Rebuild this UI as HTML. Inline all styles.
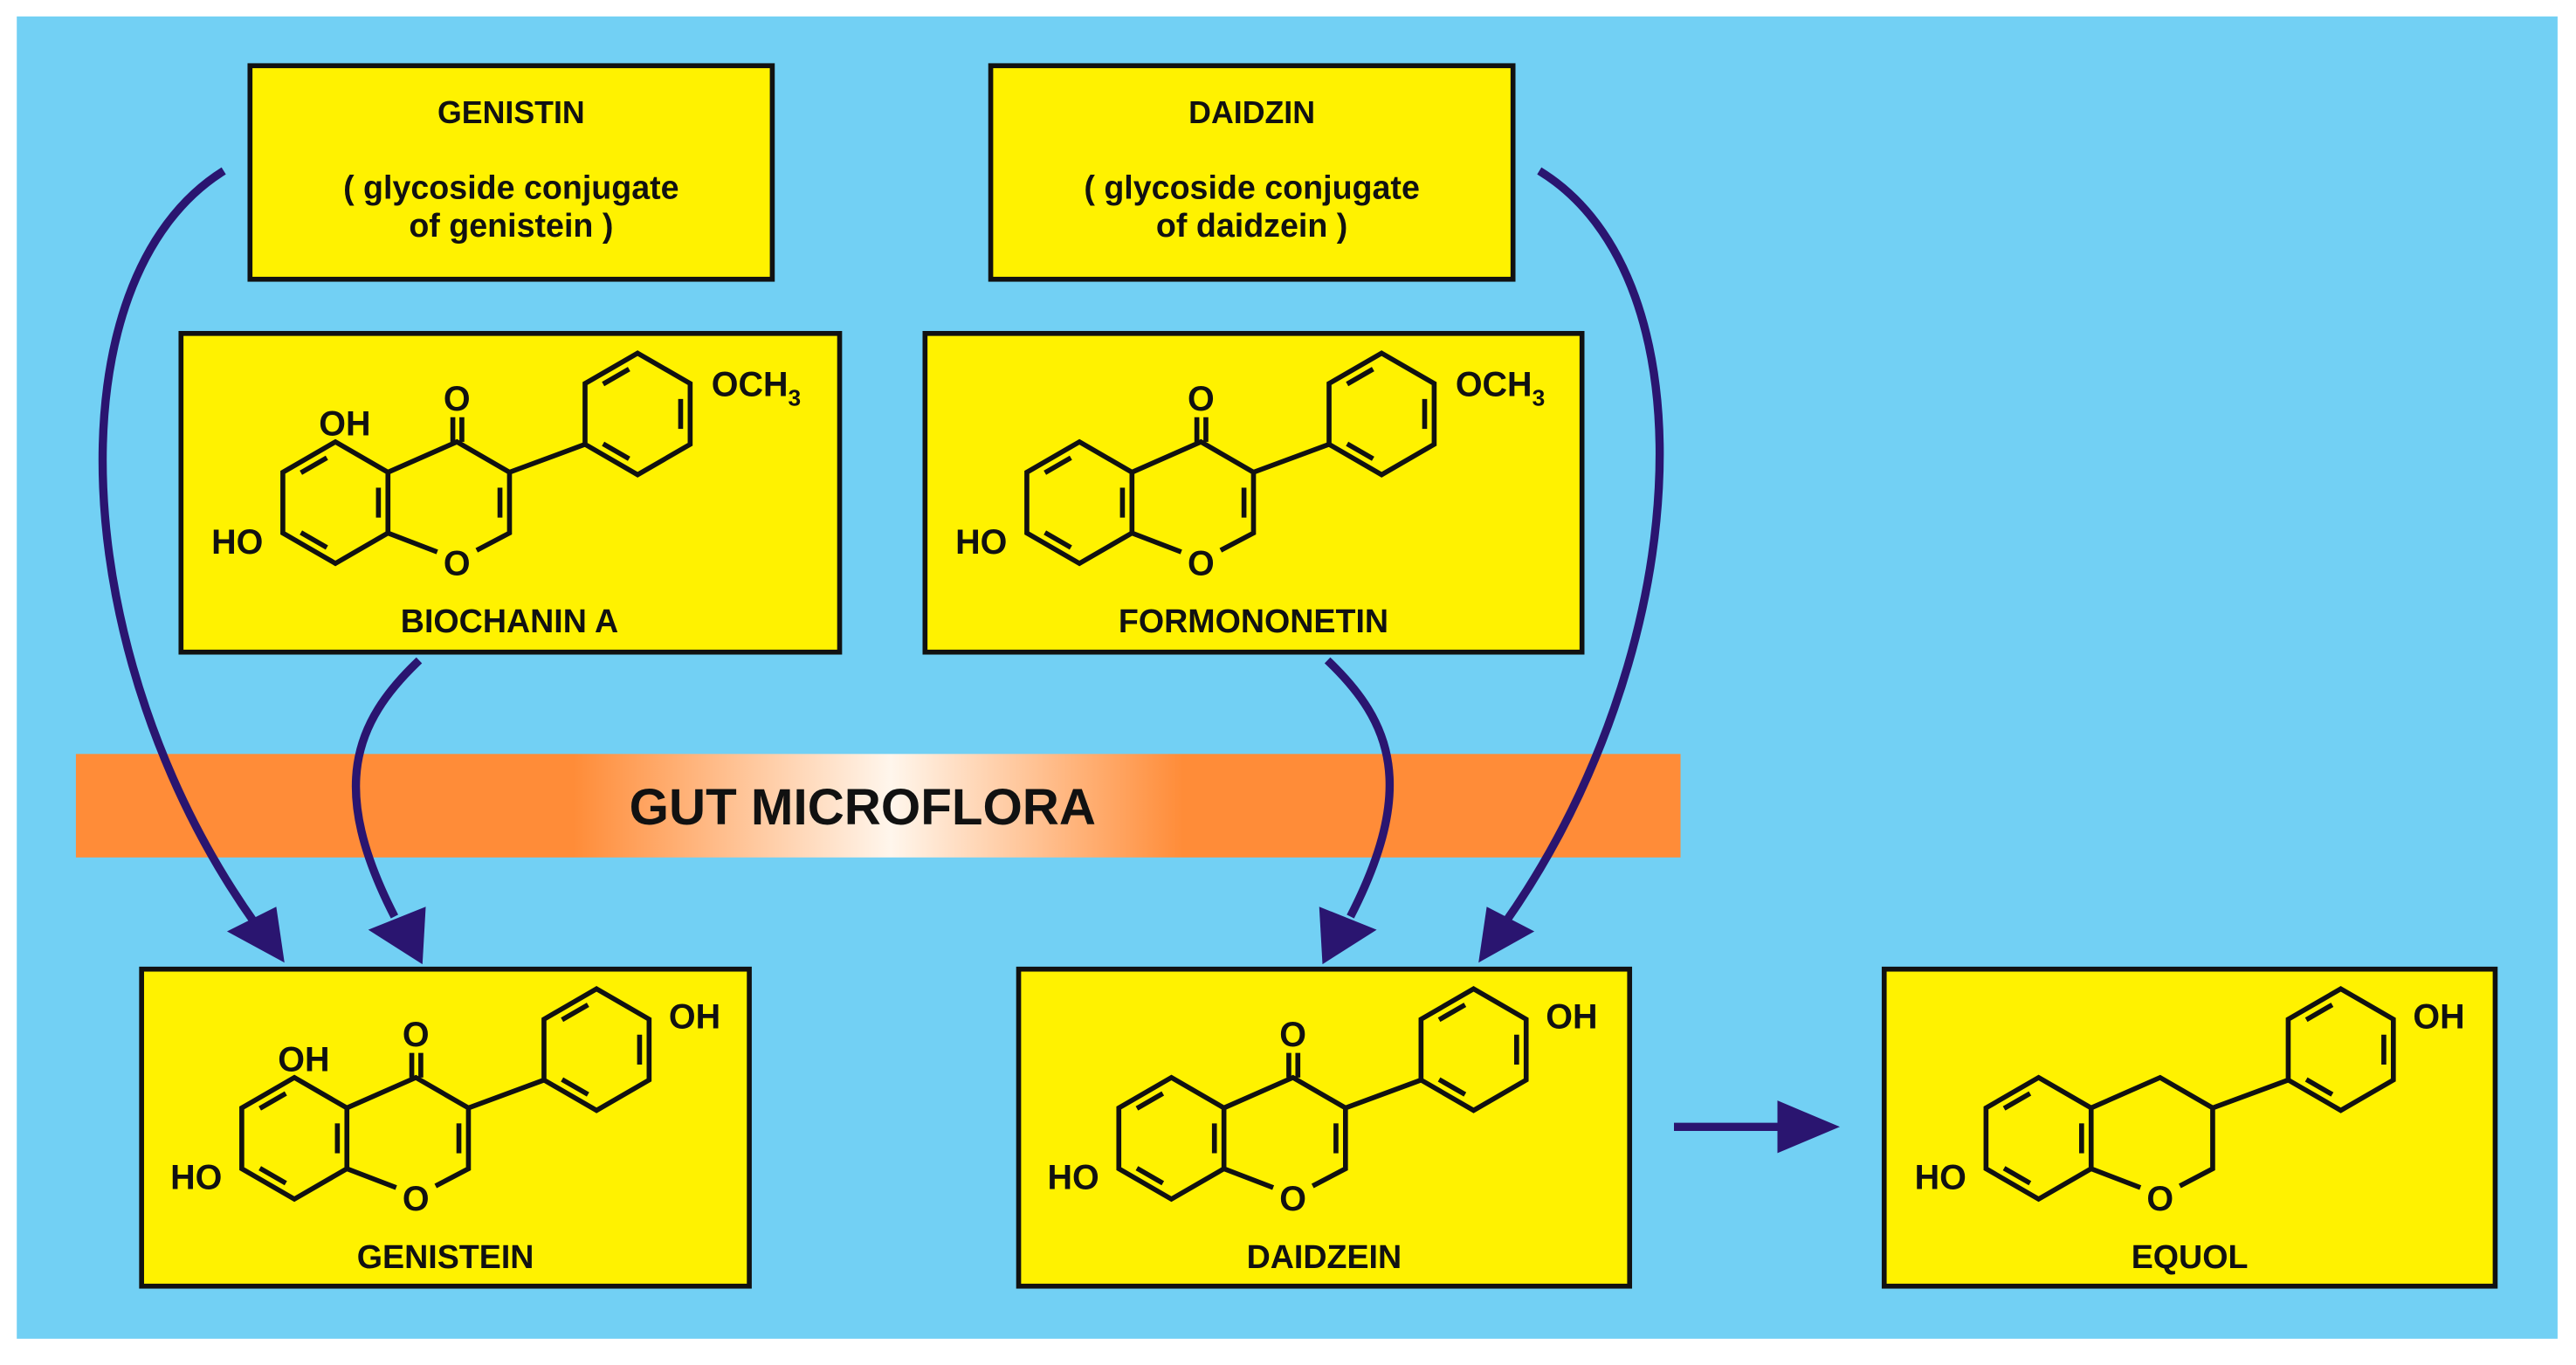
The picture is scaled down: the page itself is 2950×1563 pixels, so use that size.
<!DOCTYPE html>
<html><head><meta charset="utf-8"><style>
html,body{margin:0;padding:0;background:#fff;}
svg{display:block;}
text{font-family:"Liberation Sans",Arial,sans-serif;font-weight:bold;fill:#111;}
</style></head><body>
<svg width="2950" height="1563" viewBox="0 0 1568 831" xmlns="http://www.w3.org/2000/svg">
<defs>
<linearGradient id="og" x1="0" y1="0" x2="1" y2="0">
<stop offset="0" stop-color="#FF8C38"/>
<stop offset="0.31" stop-color="#FF8C38"/>
<stop offset="0.508" stop-color="#FFF6EC"/>
<stop offset="0.69" stop-color="#FF8C38"/>
<stop offset="1" stop-color="#FF8C38"/>
</linearGradient>
<g id="core" fill="none" stroke="#111" stroke-width="3" stroke-linejoin="miter">
<polygon points="0,-37 32,-18.5 32,18.5 0,37 -32,18.5 -32,-18.5"/>
<line x1="-21" y1="-18.2" x2="-5.2" y2="-27.3"/>
<line x1="-5.2" y1="27.3" x2="-21" y2="18.2"/>
<line x1="26.2" y1="-9.1" x2="26.2" y2="9.1"/>
<polyline points="32,-18.5 74,-37 106,-18.5 106,18.5 86,29"/>
<line x1="32" y1="18.5" x2="62" y2="30"/>
<line x1="106" y1="-18.5" x2="152" y2="-35.5"/>
<polygon points="184,-91 216,-72.5 216,-35.5 184,-17 152,-35.5 152,-72.5"/>
<line x1="163" y1="-72.2" x2="178.8" y2="-81.3"/>
<line x1="210.2" y1="-63.1" x2="210.2" y2="-44.9"/>
<line x1="178.8" y1="-26.7" x2="163" y2="-35.8"/>
</g>
<g id="flav">
<use href="#core"/>
<g fill="none" stroke="#111" stroke-width="3">
<line x1="100.2" y1="-9.1" x2="100.2" y2="9.1"/>
<line x1="71.5" y1="-37" x2="71.5" y2="-52"/>
<line x1="77" y1="-37" x2="77" y2="-52"/>
</g>
<text x="74" y="-56" font-size="21" text-anchor="middle">O</text>
<text x="74" y="44" font-size="21" text-anchor="middle">O</text>
<text x="-44" y="31" font-size="21" text-anchor="end">HO</text>
</g>
</defs>
<rect x="10" y="10" width="1547" height="805" fill="#72D0F4"/>

<!-- top boxes -->
<rect x="152" y="40" width="318" height="130" fill="#FFF200" stroke="#111" stroke-width="3"/>
<text x="311" y="75" font-size="19" text-anchor="middle">GENISTIN</text>
<text x="311" y="121" font-size="20" text-anchor="middle">( glycoside conjugate</text>
<text x="311" y="144" font-size="20" text-anchor="middle">of genistein )</text>

<rect x="603" y="40" width="318" height="130" fill="#FFF200" stroke="#111" stroke-width="3"/>
<text x="762" y="75" font-size="19" text-anchor="middle">DAIDZIN</text>
<text x="762" y="121" font-size="20" text-anchor="middle">( glycoside conjugate</text>
<text x="762" y="144" font-size="20" text-anchor="middle">of daidzein )</text>

<!-- biochanin -->
<rect x="110" y="203" width="401" height="194" fill="#FFF200" stroke="#111" stroke-width="3"/>
<g transform="translate(204,306)">
<use href="#flav"/>
<text x="-10" y="-41" font-size="21">OH</text>
<text x="229" y="-65" font-size="21">OCH<tspan font-size="14" dy="6">3</tspan></text>
</g>
<text x="310" y="385" font-size="20" text-anchor="middle">BIOCHANIN A</text>

<!-- formononetin -->
<rect x="563" y="203" width="400" height="194" fill="#FFF200" stroke="#111" stroke-width="3"/>
<g transform="translate(657,306)">
<use href="#flav"/>
<text x="229" y="-65" font-size="21">OCH<tspan font-size="14" dy="6">3</tspan></text>
</g>
<text x="763" y="385" font-size="20" text-anchor="middle">FORMONONETIN</text>

<!-- band -->
<rect x="46" y="459" width="977" height="63" fill="url(#og)"/>
<text x="525" y="502" font-size="31" text-anchor="middle">GUT MICROFLORA</text>

<!-- arrows -->
<g fill="none" stroke="#2A1570" stroke-width="5">
<path d="M136,104 C30,170 40,400 155,562"/>
<path d="M255,402 C215,440 200,480 240,558"/>
<path d="M808,402 C848,440 862,480 822,558"/>
<path d="M937,104 C1045,170 1030,400 916,562"/>
<line x1="1019" y1="686" x2="1086" y2="686"/>
</g>
<g fill="#2A1570">
<polygon points="138,567 173,586 168,552"/>
<polygon points="224,566 257,587 259,552"/>
<polygon points="838,566 805,587 803,552"/>
<polygon points="934,567 900,586 905,552"/>
<polygon points="1082,670 1120,686 1082,702"/>
</g>

<!-- genistein -->
<rect x="86" y="590" width="370" height="193" fill="#FFF200" stroke="#111" stroke-width="3"/>
<g transform="translate(179,693)">
<use href="#flav"/>
<text x="-10" y="-41" font-size="21">OH</text>
<text x="228" y="-67" font-size="21">OH</text>
</g>
<text x="271" y="772" font-size="20" text-anchor="middle">GENISTEIN</text>

<!-- daidzein -->
<rect x="620" y="590" width="372" height="193" fill="#FFF200" stroke="#111" stroke-width="3"/>
<g transform="translate(713,693)">
<use href="#flav"/>
<text x="228" y="-67" font-size="21">OH</text>
</g>
<text x="806" y="772" font-size="20" text-anchor="middle">DAIDZEIN</text>

<!-- equol -->
<rect x="1147" y="590" width="372" height="193" fill="#FFF200" stroke="#111" stroke-width="3"/>
<g transform="translate(1241,693)">
<use href="#core"/>
<text x="74" y="44" font-size="21" text-anchor="middle">O</text>
<text x="-44" y="31" font-size="21" text-anchor="end">HO</text>
<text x="228" y="-67" font-size="21">OH</text>
</g>
<text x="1333" y="772" font-size="20" text-anchor="middle">EQUOL</text>
</svg>
</body></html>
